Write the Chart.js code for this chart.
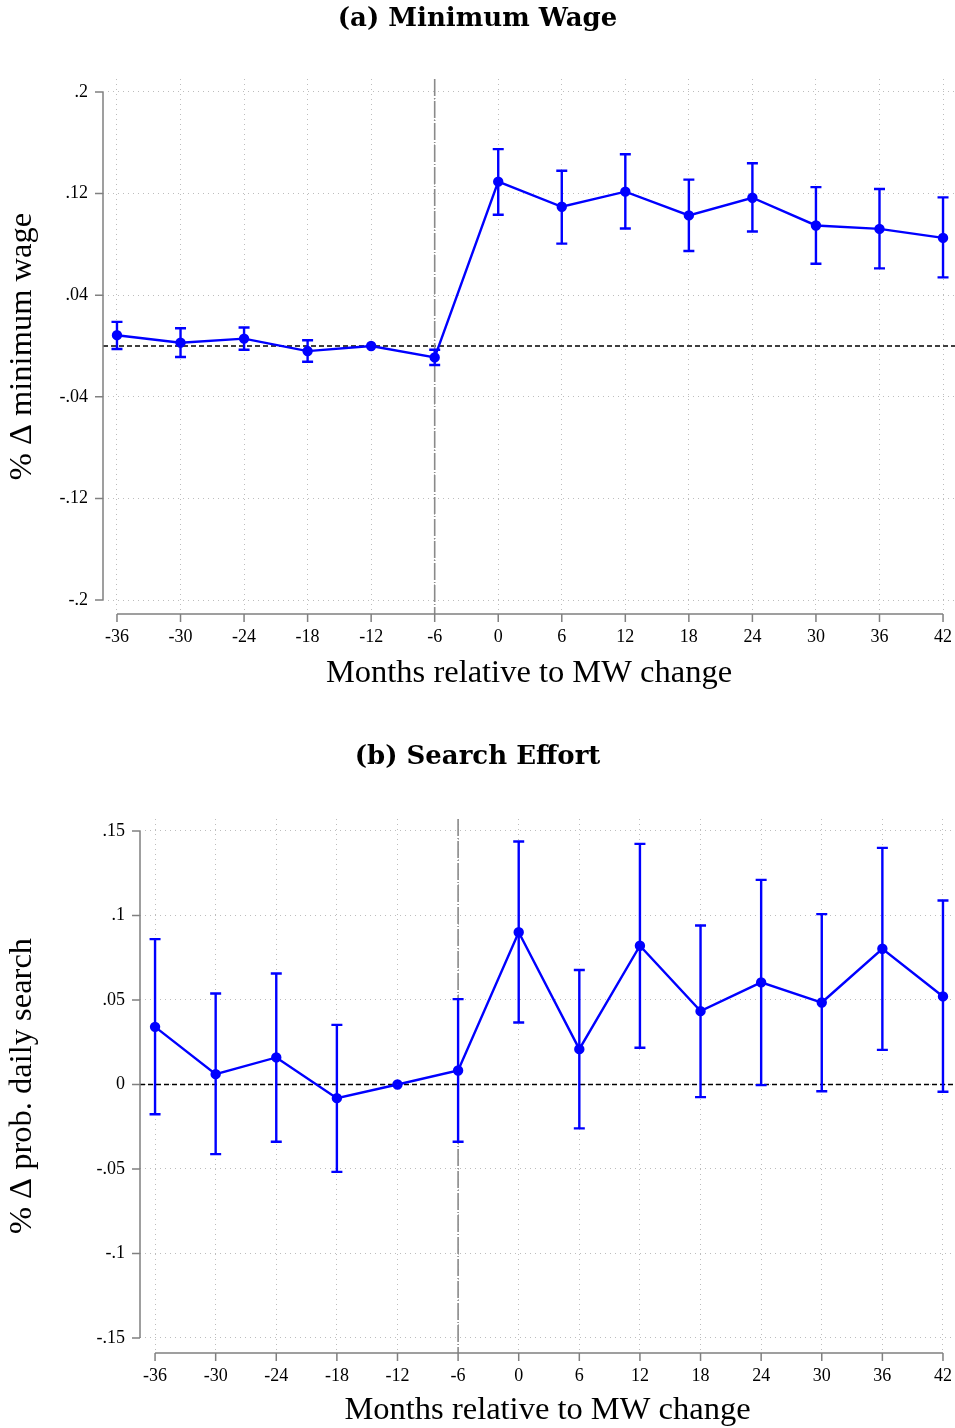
<!DOCTYPE html>
<html>
<head>
<meta charset="utf-8">
<script src="https://cdn.jsdelivr.net/npm/chart.js@4.4.1/dist/chart.umd.min.js"></script>
<style>
  body { margin: 0; background: #fff; overflow: hidden; }
  .box { position: absolute; left: 0; width: 955px; }
</style>
</head>
<body>
<div class="box" style="top:0;height:740px"><canvas id="chartA"></canvas></div>
<div class="box" style="top:740px;height:688px"><canvas id="chartB"></canvas></div>
<script>
// months relative to the minimum wage change
let months = [-36, -30, -24, -18, -12, -6, 0, 6, 12, 18, 24, 30, 36, 42];

// (a) minimum wage
let wageCoef = [0.0085, 0.0026, 0.0058, -0.004, 0, -0.009, 0.1294, 0.1096, 0.1215, 0.1028, 0.1167, 0.0949, 0.0922, 0.0851];
let wageLow  = [-0.0024, -0.0087, -0.003, -0.0124, null, -0.015, 0.1033, 0.0806, 0.0925, 0.0748, 0.0901, 0.0648, 0.0611, 0.054];
let wageHigh = [0.019, 0.014, 0.0145, 0.0045, null, -0.003, 0.155, 0.138, 0.151, 0.131, 0.1439, 0.1251, 0.1236, 0.117];
let wageTicks = [-0.2, -0.12, -0.04, 0.04, 0.12, 0.2];

// (b) search effort
let searchCoef = [0.0341, 0.0061, 0.016, -0.0081, 0, 0.0083, 0.0901, 0.0209, 0.0821, 0.0434, 0.0604, 0.0485, 0.0803, 0.0521];
let searchLow  = [-0.0176, -0.0412, -0.0339, -0.0517, null, -0.0339, 0.0367, -0.026, 0.0217, -0.0075, -0.0004, -0.004, 0.0205, -0.0043];
let searchHigh = [0.086, 0.0538, 0.0657, 0.0353, null, 0.0505, 0.1438, 0.0677, 0.1424, 0.0941, 0.1211, 0.1008, 0.14, 0.1089];
let searchTicks = [-0.15, -0.1, -0.05, 0, 0.05, 0.1, 0.15];

let monthTicks = [-36, -30, -24, -18, -12, -6, 0, 6, 12, 18, 24, 30, 36, 42];
let eventMonth = -6;

const serif = "'Liberation Serif', 'Times New Roman', serif";
const blue = '#0000ff';
const titleSize = 26;

// stata style labels: .2, -.04, 0
function stataLabel(v) {
  return String(+v.toFixed(2)).replace('0.', '.');
}

// error bars, reference lines and the offset axes
const extras = {
  id: 'extras',
  beforeDatasetsDraw(chart, args, o) {
    const { ctx, chartArea: a, scales: { x, y } } = chart;
    ctx.save();
    // horizontal zero line
    let zy = y.getPixelForValue(0);
    ctx.strokeStyle = '#000';
    ctx.lineWidth = 1.3;
    ctx.setLineDash([5, 3]);
    ctx.beginPath();
    ctx.moveTo(a.left, zy);
    ctx.lineTo(a.right, zy);
    ctx.stroke();
    // vertical line at the event month
    let ex = x.getPixelForValue(o.event);
    ctx.strokeStyle = '#8a8a8a';
    ctx.lineWidth = 1.6;
    ctx.setLineDash([17, 2, 1, 2]);
    ctx.beginPath();
    ctx.moveTo(ex, a.top);
    ctx.lineTo(ex, a.bottom);
    ctx.stroke();
    // confidence intervals
    ctx.setLineDash([]);
    ctx.strokeStyle = blue;
    ctx.lineWidth = 2.4;
    o.low.forEach((lo, i) => {
      if (lo === null) return;
      let px = x.getPixelForValue(o.months[i]);
      let p1 = y.getPixelForValue(lo);
      let p2 = y.getPixelForValue(o.high[i]);
      ctx.beginPath();
      ctx.moveTo(px, p1); ctx.lineTo(px, p2);
      ctx.moveTo(px - 5.5, p1); ctx.lineTo(px + 5.5, p1);
      ctx.moveTo(px - 5.5, p2); ctx.lineTo(px + 5.5, p2);
      ctx.stroke();
    });
    ctx.restore();
  },
  afterDraw(chart, args, o) {
    const { ctx, chartArea: a, scales: { x, y } } = chart;
    ctx.save();
    ctx.strokeStyle = '#808080';
    ctx.lineWidth = 1.5;
    // y axis
    let yt = o.yTicks;
    ctx.beginPath();
    ctx.moveTo(a.left, y.getPixelForValue(yt[yt.length - 1]));
    ctx.lineTo(a.left, y.getPixelForValue(yt[0]));
    yt.forEach(v => {
      let py = y.getPixelForValue(v);
      ctx.moveTo(a.left, py);
      ctx.lineTo(a.left - 8, py);
    });
    // x axis
    let xt = o.xTicks;
    ctx.moveTo(x.getPixelForValue(xt[0]), a.bottom);
    ctx.lineTo(x.getPixelForValue(xt[xt.length - 1]), a.bottom);
    xt.forEach(v => {
      let px = x.getPixelForValue(v);
      ctx.moveTo(px, a.bottom);
      ctx.lineTo(px, a.bottom + 8);
    });
    ctx.stroke();
    ctx.restore();
  }
};

function makePanel(id, p) {
  return new Chart(document.getElementById(id).getContext('2d'), {
    type: 'line',
    data: {
      datasets: [{
        data: months.map((m, i) => ({ x: m, y: p.coef[i] })),
        borderColor: blue,
        backgroundColor: blue,
        borderWidth: 2.4,
        pointRadius: 4,
        pointHoverRadius: 4,
        tension: 0
      }]
    },
    plugins: [extras],
    options: {
      responsive: true,
      maintainAspectRatio: false,
      animation: false,
      layout: { autoPadding: false, padding: { left: 0, right: 0, top: 0, bottom: p.padBottom } },
      plugins: {
        legend: { display: false },
        tooltip: { enabled: false },
        title: {
          display: true,
          text: p.title,
          color: '#000',
          font: { family: "'DejaVu Serif', serif", size: titleSize, weight: 'bold' },
          padding: { top: p.titleTop, bottom: 79 - p.titleTop - titleSize * 1.2 }
        },
        extras: { months: months, low: p.low, high: p.high, event: eventMonth, yTicks: p.yTicks, xTicks: monthTicks }
      },
      scales: {
        x: {
          type: 'linear',
          min: p.xMin,
          max: p.xMax,
          afterBuildTicks: s => { s.ticks = monthTicks.map(v => ({ value: v })); },
          afterFit: s => { s.height = p.xHeight; s.paddingLeft = 0; s.paddingRight = 0; },
          border: { display: false, dash: [1, 4] },
          grid: { color: '#bdbdbd', lineWidth: 1, drawTicks: false },
          ticks: { color: '#000', font: { family: serif, size: 18 }, padding: 12, maxRotation: 0, callback: v => String(v) },
          title: {
            display: true,
            text: 'Months relative to MW change',
            color: '#000',
            font: { family: serif, size: 32.5 },
            padding: { top: 0, bottom: p.xTitlePad }
          }
        },
        y: {
          min: p.yMin,
          max: p.yMax,
          afterBuildTicks: s => { s.ticks = p.yTicks.map(v => ({ value: v })); },
          afterFit: s => { s.width = p.yWidth; s.paddingTop = 0; s.paddingBottom = 0; },
          border: { display: false, dash: [1, 4] },
          grid: { color: '#bdbdbd', lineWidth: 1, drawTicks: false },
          ticks: { color: '#000', font: { family: serif, size: 18 }, padding: 15, callback: v => stataLabel(v) },
          title: {
            display: true,
            text: p.yTitle,
            color: '#000',
            font: { family: serif, size: 32.5 },
            padding: { top: 3, bottom: 0 }
          }
        }
      }
    }
  });
}

makePanel('chartA', {
  title: '(a) Minimum Wage',
  yTitle: '% \u0394 minimum wage',
  coef: wageCoef, low: wageLow, high: wageHigh, yTicks: wageTicks,
  xMin: -37.32, xMax: 43.13, yMin: -0.211, yMax: 0.2102,
  yWidth: 103, xHeight: 80, padBottom: 46, xTitlePad: 1, titleTop: 3.4
});

makePanel('chartB', {
  title: '(b) Search Effort',
  yTitle: '% \u0394 prob. daily search',
  coef: searchCoef, low: searchLow, high: searchHigh, yTicks: searchTicks,
  xMin: -37.49, xMax: 43.19, yMin: -0.1589, yMax: 0.1571,
  yWidth: 140, xHeight: 75, padBottom: 0, xTitlePad: -2, titleTop: 1.4
});
</script>
</body>
</html>
